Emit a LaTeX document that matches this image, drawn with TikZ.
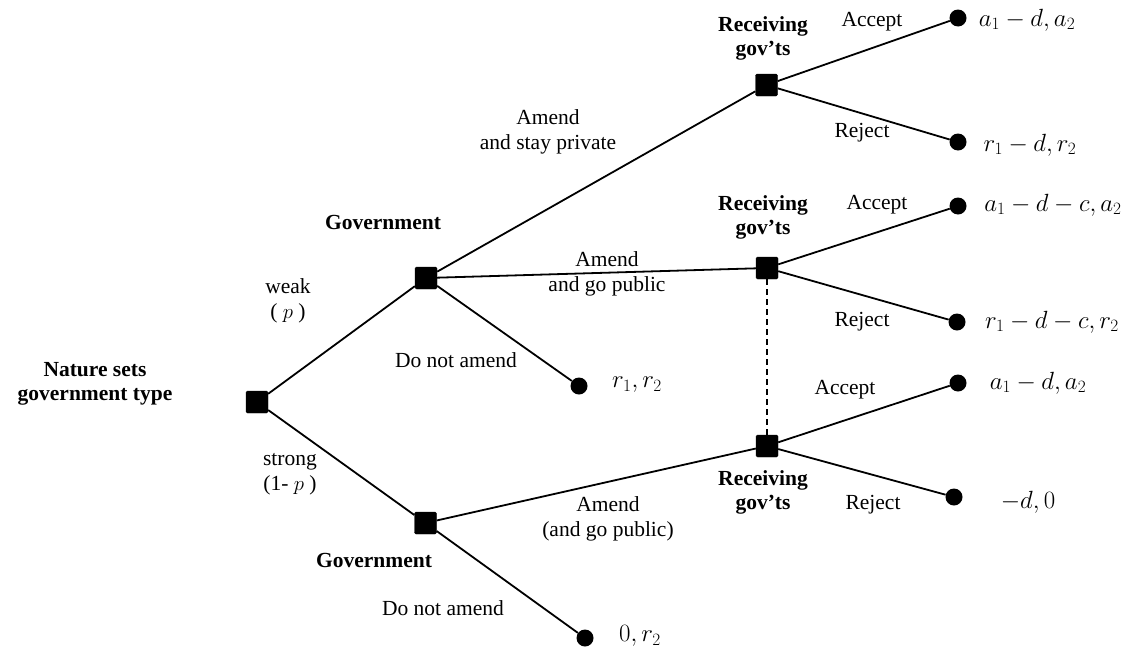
\documentclass[tikz,border=0pt]{standalone}
\usepackage{fontspec}
\setmainfont{Liberation Serif}
\begin{document}
\begin{tikzpicture}[x=1pt,y=-1pt,
  dec/.style={fill=black,draw=black,rounded corners=1.5pt,minimum size=22pt,inner sep=0pt},
  term/.style={circle,fill=black,minimum size=17pt,inner sep=0pt},
  edge/.style={line width=1.8pt},
  info/.style={line width=1.6pt,dash pattern=on 6pt off 4pt},
  lbl/.style={font=\fontsize{21.5}{25}\selectfont,align=center,inner sep=0pt},
  plbl/.style={font=\fontsize{23}{25}\selectfont,align=center,inner sep=0pt},
  blbl/.style={font=\fontsize{21.5}{24}\selectfont\bfseries,align=center,inner sep=0pt},
]
\useasboundingbox (0,0) rectangle (1121,648);
% decision nodes
\node[dec] (root) at (257,402) {};
\node[dec] (g1) at (426,278) {};
\node[dec] (g2) at (425.5,523) {};
\node[dec] (r1) at (766.5,85) {};
\node[dec] (r2) at (767,268) {};
\node[dec] (r3) at (767,446) {};
% terminal nodes
\node[term] (t1) at (958,18) {};
\node[term] (t2) at (958,142) {};
\node[term] (t3) at (958,206) {};
\node[term] (t4) at (957,322) {};
\node[term] (t5) at (958,383) {};
\node[term] (t6) at (954,497) {};
\node[term] (t7) at (579,386) {};
\node[term] (t8) at (585,638) {};
% edges
\draw[edge] (root) -- (g1);
\draw[edge] (root) -- (g2);
\draw[edge] (g1) -- (r1);
\draw[edge] (g1) -- (r2);
\draw[edge] (g1) -- (t7);
\draw[edge] (g2) -- (r3);
\draw[edge] (g2) -- (t8);
\draw[edge] (r1) -- (t1);
\draw[edge] (r1) -- (t2);
\draw[edge] (r2) -- (t3);
\draw[edge] (r2) -- (t4);
\draw[edge] (r3) -- (t5);
\draw[edge] (r3) -- (t6);
\draw[info] (r2) -- (r3);
% player labels
\node[blbl] (lnature) at (95,384) {Nature sets\\government type};
\node[blbl] (lgov1) at (383,222) {Government};
\node[blbl] (lgov2) at (374,560) {Government};
\node[blbl] (lrec1) at (763,38) {Receiving\\gov’ts};
\node[blbl] (lrec2) at (763,217) {Receiving\\gov’ts};
\node[blbl] (lrec3) at (763,492) {Receiving\\gov’ts};
% action labels
\node[lbl] (lweak) at (288,301) {weak\\( $p$ )};
\node[lbl] (lstrong) at (290,474) {strong\\(1- $p$ )};
\node[lbl] (lpriv) at (548,132) {Amend\\and stay private};
\node[lbl] (lpub) at (607,274) {Amend\\and go public};
\node[lbl] (lno1) at (456,360) {Do not amend};
\node[lbl] (lpub2) at (608,519) {Amend\\(and go public)};
\node[lbl] (lno2) at (443,608) {Do not amend};
\node[lbl] (la1) at (872,22) {Accept};
\node[lbl] (lr1) at (862,133) {Reject};
\node[lbl] (la2) at (877,205) {Accept};
\node[lbl] (lr2) at (862,322) {Reject};
\node[lbl] (la3) at (845,390) {Accept};
\node[lbl] (lr3) at (873,505) {Reject};
% payoffs
\node[plbl] (p1) at (1027,20) {$a_1-d,a_2$};
\node[plbl] (p2) at (1030,145) {$r_1-d,r_2$};
\node[plbl] (p3) at (1053,205) {$a_1-d-c,a_2$};
\node[plbl] (p4) at (1052,322) {$r_1-d-c,r_2$};
\node[plbl] (p5) at (1038,383) {$a_1-d,a_2$};
\node[plbl] (p6) at (1028,502) {$-d,0$};
\node[plbl] (p7) at (637,385) {$r_1,r_2$};
\node[plbl] (p8) at (640,636) {$0,r_2$};
\end{tikzpicture}
\end{document}
